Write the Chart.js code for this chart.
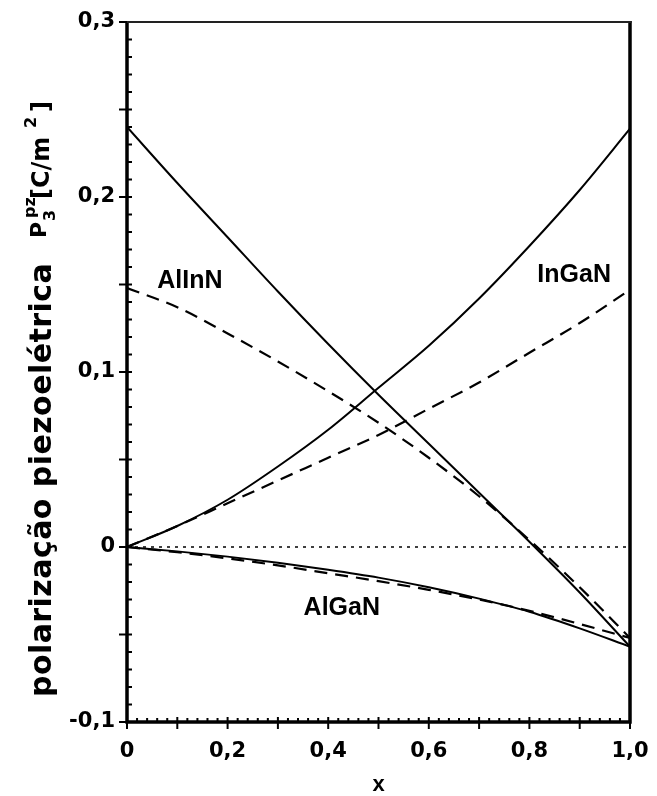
<!DOCTYPE html>
<html>
<head>
<meta charset="utf-8">
<script src="https://cdn.jsdelivr.net/npm/chart.js@4.4.0/dist/chart.umd.min.js"></script>
<style>
html,body{margin:0;padding:0;background:#fff;}
#wrap{width:657px;height:796px;position:relative;}
canvas{display:block;}
</style>
</head>
<body>
<div id="wrap"><canvas id="c" width="657" height="796"></canvas></div>
<script>
// ---- data ----
const xValues     = [0, 0.1, 0.2, 0.3, 0.4, 0.5, 0.6, 0.7, 0.8, 0.9, 1.0];
const alInNSolid  = [0.240, 0.208, 0.177, 0.146, 0.116, 0.087, 0.059, 0.031, 0.003, -0.026, -0.057];
const alInNDashed = [0.148, 0.137, 0.122, 0.106, 0.089, 0.071, 0.051, 0.029, 0.004, -0.023, -0.052];
const inGaNSolid  = [0, 0.012, 0.027, 0.046, 0.067, 0.091, 0.115, 0.142, 0.172, 0.204, 0.239];
const inGaNDashed = [0, 0.012, 0.025, 0.038, 0.051, 0.064, 0.079, 0.094, 0.111, 0.128, 0.147];
const alGaNSolid  = [0, -0.0025, -0.0055, -0.009, -0.013, -0.0175, -0.023, -0.0295, -0.037, -0.0465, -0.057];
const alGaNDashed = [0, -0.003, -0.0065, -0.0105, -0.015, -0.0195, -0.0245, -0.030, -0.0365, -0.044, -0.052];
const zeroLineX   = [0, 1.0];
const zeroLineY   = [0, 0];
const xTickValues = [0, 0.2, 0.4, 0.6, 0.8, 1.0];
const yTickValues = [-0.1, 0, 0.1, 0.2, 0.3];
const curveNames  = ['AlInN', 'InGaN', 'AlGaN'];
const curveNameX  = [0.125, 0.889, 0.427];
const curveNameY  = [0.152, 0.1555, -0.0348];

function pts(xs, ys){ return xs.map((x,i)=>({x:x, y:ys[i]})); }
function fmt(v){ const r = Math.round(v*10)/10; if (r === 0) return '0'; return r.toFixed(1).replace('.', ','); }

const solid = {borderColor:'#000', borderWidth:2, pointRadius:0, fill:false, cubicInterpolationMode:'monotone'};
const dashed = {borderColor:'#000', borderWidth:2.2, pointRadius:0, fill:false, cubicInterpolationMode:'monotone', borderDash:[13,8]};

const frameAndTicks = {
  id:'frameAndTicks',
  afterDatasetsDraw(chart){
    const ctx = chart.ctx, a = chart.chartArea;
    const xs = chart.scales.x, ys = chart.scales.y;
    ctx.save();
    ctx.strokeStyle = '#000';
    ctx.lineCap = 'butt';
    // y ticks
    ctx.lineWidth = 2;
    for (let i = -10; i <= 30; i++) {
      const v = i/100, p = ys.getPixelForValue(v);
      const major = (i % 5 === 0);
      ctx.beginPath();
      ctx.moveTo(a.left - (major ? 8 : 0), p);
      ctx.lineTo(a.left + 5, p);
      ctx.stroke();
    }
    // x ticks
    for (let i = 0; i <= 50; i++) {
      const v = i/50, p = xs.getPixelForValue(v);
      const major = (i % 5 === 0);
      ctx.beginPath();
      ctx.moveTo(p, a.bottom + (major ? 7 : 0));
      ctx.lineTo(p, a.bottom - (major ? 5 : 4));
      ctx.stroke();
    }
    // spines
    ctx.lineWidth = 3.5;
    ctx.beginPath();
    ctx.moveTo(a.left, a.top - 1); ctx.lineTo(a.left, a.bottom + 1.75);
    ctx.moveTo(a.left - 1.75, a.bottom); ctx.lineTo(a.right + 1.75, a.bottom);
    ctx.moveTo(a.right, a.top - 1); ctx.lineTo(a.right, a.bottom + 1.75);
    ctx.stroke();
    ctx.lineWidth = 2;
    ctx.strokeStyle = '#222';
    ctx.beginPath();
    ctx.moveTo(a.left, a.top); ctx.lineTo(a.right + 1.75, a.top);
    ctx.stroke();
    // curve names
    ctx.fillStyle = '#000';
    ctx.font = 'bold 25px "Liberation Sans"';
    ctx.textAlign = 'center';
    ctx.textBaseline = 'middle';
    curveNames.forEach((t,i)=>{
      ctx.fillText(t, xs.getPixelForValue(curveNameX[i]), ys.getPixelForValue(curveNameY[i]));
    });
    ctx.restore();
    drawYTitle(ctx);
  }
};

function drawYTitle(ctx){
  ctx.save();
  ctx.fillStyle = '#000';
  ctx.textAlign = 'left';
  ctx.textBaseline = 'alphabetic';
  ctx.rotate(-Math.PI/2);
  const base = 697; // screen y where the title starts
  const piece = (txt, size, s, b, target) => {
    ctx.font = 'bold ' + size + 'px "DejaVu Sans"';
    if (target && ('letterSpacing' in ctx)) {
      ctx.letterSpacing = '0px';
      const w = ctx.measureText(txt).width;
      const sp = (target - w) / (txt.length);
      ctx.letterSpacing = sp.toFixed(2) + 'px';
    }
    ctx.fillText(txt, s - base, b);
    if ('letterSpacing' in ctx) ctx.letterSpacing = '0px';
  };
  piece('polarização piezoelétrica', 30, 0, 51, 434);
  piece('P', 22, 459, 46);
  piece('3', 16, 476, 55);
  piece('pz', 16, 479, 35);
  piece('[C/m', 24, 498, 49);
  piece('2', 16, 569, 36);
  piece(']', 24, 585, 49);
  ctx.restore();
}

new Chart(document.getElementById('c'), {
  type: 'scatter',
  data: {
    datasets: [
      Object.assign({label:'AlInN', data: pts(xValues, alInNSolid), showLine:true}, solid),
      Object.assign({label:'AlInN (dashed)', data: pts(xValues, alInNDashed), showLine:true}, dashed),
      Object.assign({label:'InGaN', data: pts(xValues, inGaNSolid), showLine:true}, solid),
      Object.assign({label:'InGaN (dashed)', data: pts(xValues, inGaNDashed), showLine:true}, dashed),
      Object.assign({label:'AlGaN', data: pts(xValues, alGaNSolid), showLine:true}, solid),
      Object.assign({label:'AlGaN (dashed)', data: pts(xValues, alGaNDashed), showLine:true}, dashed),
      {label:'zero', data: pts(zeroLineX, zeroLineY), showLine:true, borderColor:'#000', borderWidth:1.5, borderDash:[3,5], pointRadius:0, fill:false}
    ]
  },
  options: {
    responsive: false,
    animation: false,
    devicePixelRatio: 1,
    layout: { padding: { top: 22, right: 27, left: 0, bottom: 0 } },
    plugins: { legend: {display:false}, tooltip: {enabled:false}, title: {display:false} },
    scales: {
      x: {
        type: 'linear', min: 0, max: 1.0,
        grid: { display: false, drawTicks: false },
        border: { display: false },
        afterBuildTicks: s => { s.ticks = xTickValues.map(v => ({value: v})); },
        afterFit: s => { s.height = 74; s.paddingLeft = 0; s.paddingRight = 0; },
        ticks: { padding: 17, color: '#000', maxRotation: 0, autoSkip: false,
                 font: { family: 'DejaVu Sans', weight: 'bold', size: 21 },
                 callback: v => fmt(v) },
        title: { display: true, text: 'x', color: '#000', padding: {top:0, bottom:0},
                 font: { family: 'Liberation Sans', weight: 'bold', size: 22, lineHeight: 1 } }
      },
      y: {
        type: 'linear', min: -0.1, max: 0.3,
        grid: { display: false, drawTicks: false },
        border: { display: false },
        afterBuildTicks: s => { s.ticks = yTickValues.map(v => ({value: v})); },
        afterFit: s => { s.width = 127; s.paddingTop = 0; s.paddingBottom = 0; },
        ticks: { padding: 12, color: '#000', autoSkip: false,
                 font: { family: 'DejaVu Sans', weight: 'bold', size: 21 },
                 callback: v => fmt(v) }
      }
    }
  },
  plugins: [frameAndTicks]
});
</script>
</body>
</html>
